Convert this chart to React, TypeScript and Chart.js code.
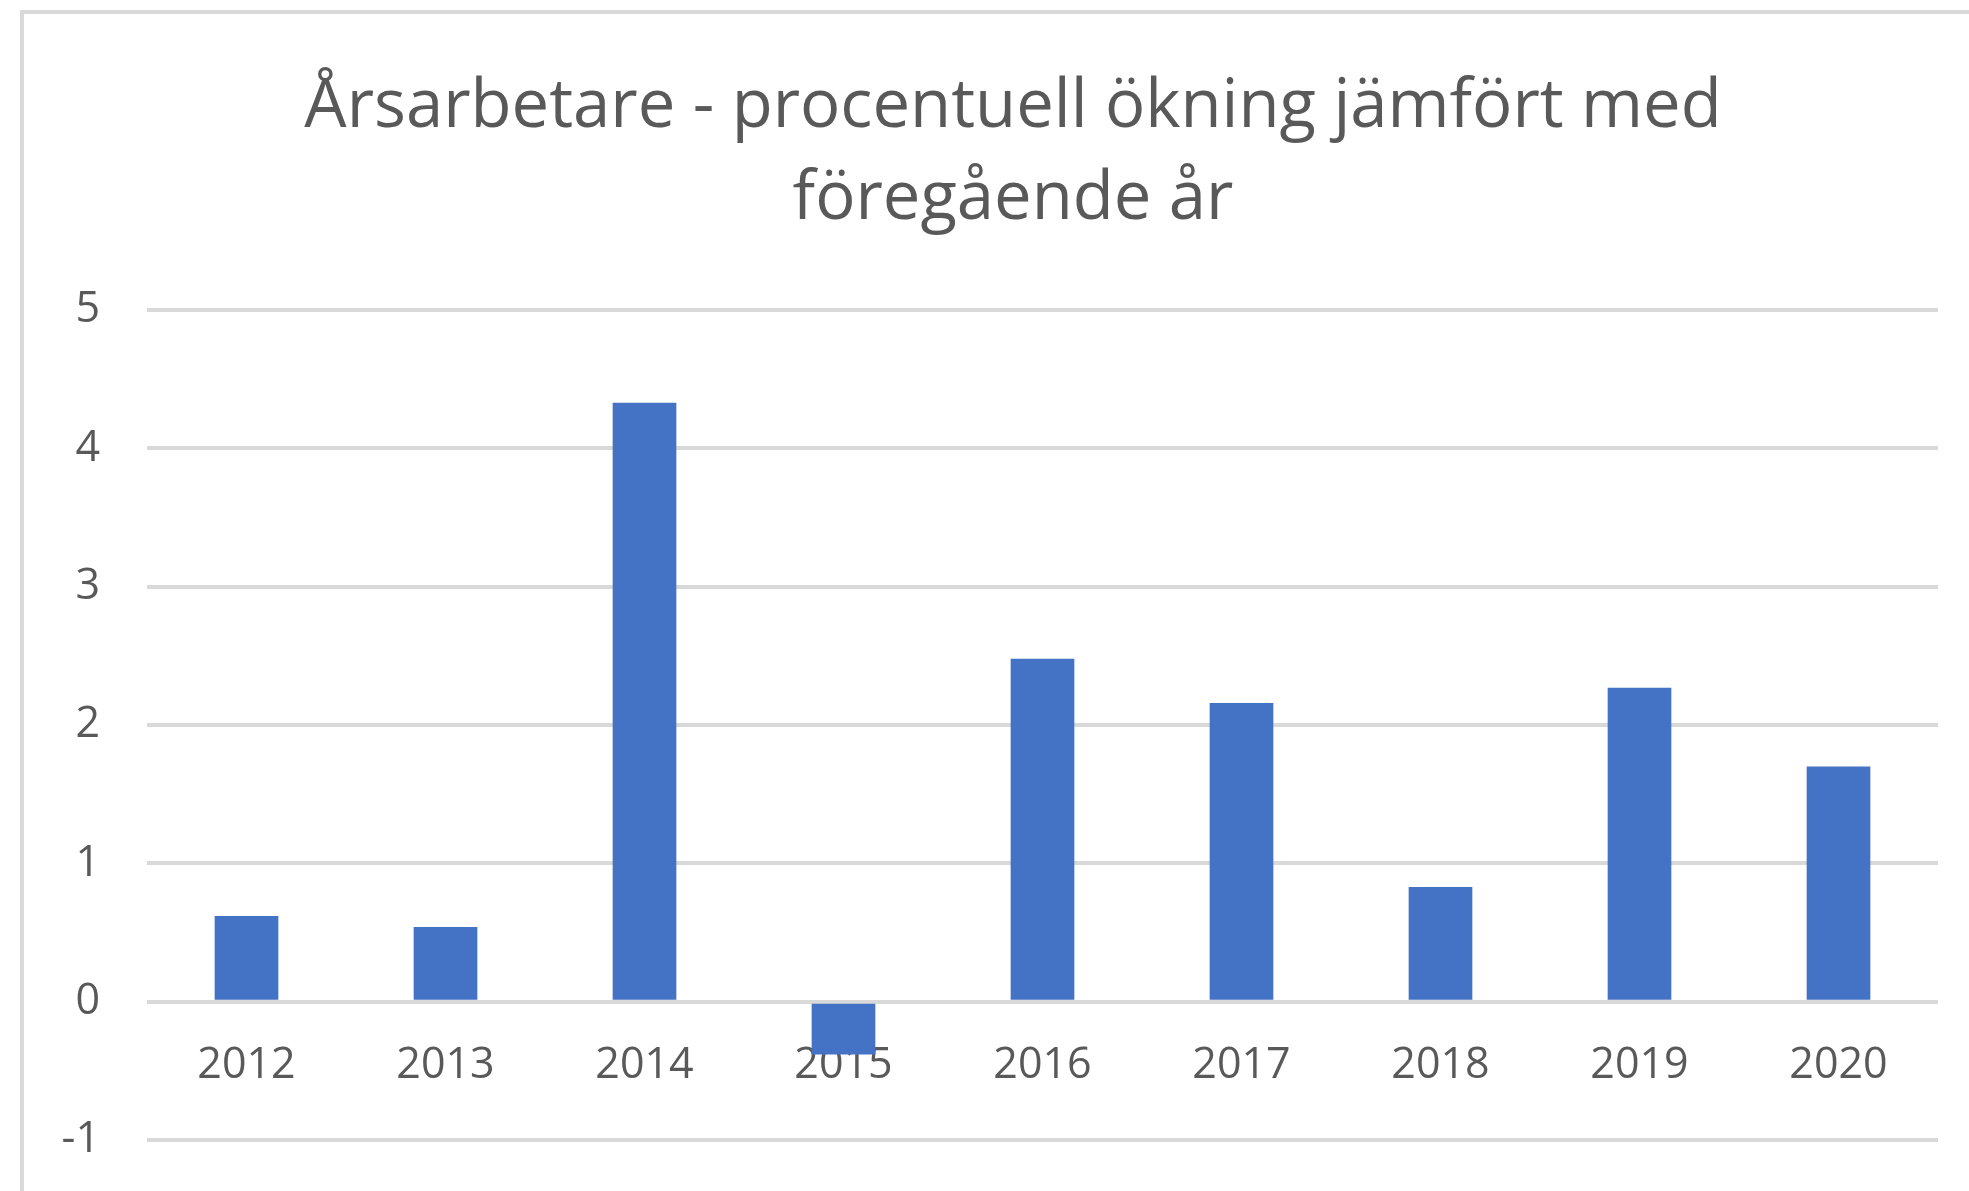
import React, { useEffect, useRef } from "react";
import { Chart, registerables } from "chart.js";

Chart.register(...registerables);

const titleLines = ["Årsarbetare - procentuell ökning jämfört med", "föregående år"];
const years = ["2012", "2013", "2014", "2015", "2016", "2017", "2018", "2019", "2020"];
const increase = [0.62, 0.54, 4.33, -0.38, 2.48, 2.16, 0.83, 2.27, 1.7];
const yMin = -1;
const yMax = 5;
const yStep = 1;

const FONT = "'Open Sans', sans-serif";

export default function App() {
  const ref = useRef<HTMLCanvasElement | null>(null);

  useEffect(() => {
    if (!ref.current) return;
    const chart = new Chart(ref.current, {
      type: "bar",
      data: {
        labels: years,
        datasets: [
          {
            label: "Årsarbetare",
            data: increase,
            backgroundColor: "#4472C4",
            borderWidth: 0,
            barPercentage: 0.32,
            categoryPercentage: 1,
          },
        ],
      },
      options: {
        animation: false,
        responsive: false,
        maintainAspectRatio: false,
        layout: { padding: { left: 30, right: 31, top: 310, bottom: 20 } },
        plugins: {
          legend: { display: false },
          tooltip: { enabled: false },
          title: { display: false },
        },
        scales: {
          x: {
            position: { y: 0 } as any,
            grid: { display: false, drawTicks: false },
            border: { display: false },
            ticks: {
              color: "#595959",
              font: { family: FONT, size: 43 },
              padding: 38,
              maxRotation: 0,
            },
          },
          y: {
            min: yMin,
            max: yMax,
            afterFit: (scale: any) => {
              scale.width = 117;
            },
            grid: { color: "#d9d9d9", lineWidth: 4, drawTicks: false },
            border: { display: false },
            ticks: {
              stepSize: yStep,
              color: "#595959",
              font: { family: FONT, size: 43 },
              padding: 47,
            },
          },
        },
      },
    });
    return () => chart.destroy();
  }, []);

  return (
    <div
      style={{
        position: "fixed",
        left: 0,
        top: 0,
        width: 1969,
        height: 1191,
        overflow: "hidden",
        background: "#ffffff",
      }}
    >
      <div
        style={{
          position: "absolute",
          left: 20,
          top: 10,
          width: 3000,
          height: 3000,
          borderLeft: "4px solid #d9d9d9",
          borderTop: "4px solid #d9d9d9",
        }}
      />
      <div
        style={{
          position: "absolute",
          left: 0,
          top: 55,
          width: 2026,
          textAlign: "center",
          fontFamily: FONT,
          fontSize: 67,
          lineHeight: "92px",
          color: "#595959",
          whiteSpace: "nowrap",
        }}
      >
        {titleLines.map((t) => (
          <div key={t}>{t}</div>
        ))}
      </div>
      <canvas
        ref={ref}
        width={1969}
        height={1213}
        style={{ position: "absolute", left: 0, top: 0, width: 1969, height: 1213 }}
      />
    </div>
  );
}
